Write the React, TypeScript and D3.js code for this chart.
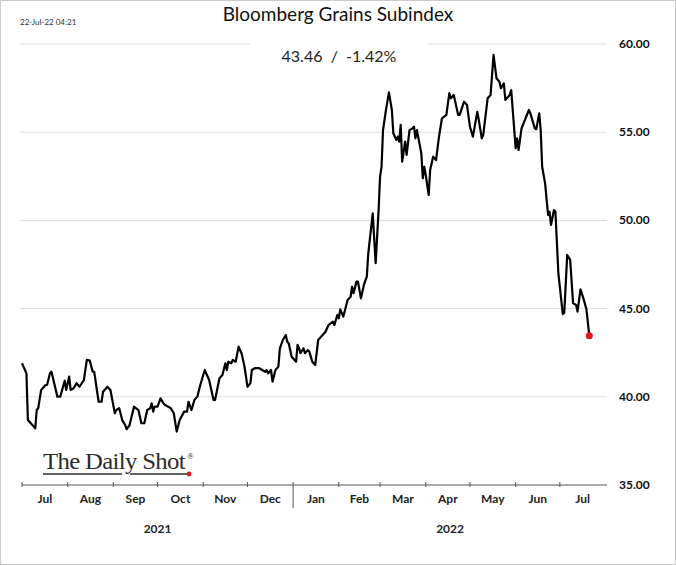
import React from 'react';
import * as d3 from 'd3';

const W = 676;
const H = 565;

// chart labels
const title = 'Bloomberg Grains Subindex';
const stamp = '22-Jul-22 04:21';
const lastLabel = '43.46  /  -1.42%';
const yTicks = [35, 40, 45, 50, 55, 60];
const years = ['2021', '2022'];

// Bloomberg Grains Subindex
const dates = [
  '2021-07-01', '2021-07-04', '2021-07-05', '2021-07-08', '2021-07-10', '2021-07-11', '2021-07-12', '2021-07-14',
  '2021-07-17', '2021-07-18', '2021-07-20', '2021-07-21', '2021-07-25', '2021-07-27', '2021-07-30', '2021-07-31',
  '2021-08-02', '2021-08-03', '2021-08-05', '2021-08-07', '2021-08-09', '2021-08-12', '2021-08-14', '2021-08-16',
  '2021-08-18', '2021-08-19', '2021-08-22', '2021-08-24', '2021-08-25', '2021-08-28', '2021-08-30', '2021-09-02',
  '2021-09-03', '2021-09-05', '2021-09-07', '2021-09-09', '2021-09-10', '2021-09-12', '2021-09-15', '2021-09-18',
  '2021-09-20', '2021-09-22', '2021-09-24', '2021-09-26', '2021-09-27', '2021-09-28', '2021-09-29', '2021-10-01',
  '2021-10-03', '2021-10-05', '2021-10-06', '2021-10-10', '2021-10-12', '2021-10-14', '2021-10-16', '2021-10-19',
  '2021-10-21', '2021-10-22', '2021-10-24', '2021-10-26', '2021-10-28', '2021-10-30', '2021-11-02', '2021-11-05',
  '2021-11-08', '2021-11-09', '2021-11-12', '2021-11-14', '2021-11-16', '2021-11-17', '2021-11-18', '2021-11-20',
  '2021-11-21', '2021-11-23', '2021-11-25', '2021-11-27', '2021-11-29', '2021-12-01', '2021-12-03', '2021-12-04',
  '2021-12-06', '2021-12-09', '2021-12-11', '2021-12-13', '2021-12-14', '2021-12-15', '2021-12-17', '2021-12-18',
  '2021-12-20', '2021-12-22', '2021-12-23', '2021-12-25', '2021-12-27', '2021-12-28', '2021-12-29', '2021-12-31',
  '2022-01-03', '2022-01-04', '2022-01-05', '2022-01-06', '2022-01-08', '2022-01-09', '2022-01-11', '2022-01-12',
  '2022-01-14', '2022-01-16', '2022-01-18', '2022-01-21', '2022-01-23', '2022-01-25', '2022-01-28', '2022-01-29',
  '2022-01-31', '2022-02-01', '2022-02-02', '2022-02-04', '2022-02-07', '2022-02-09', '2022-02-10', '2022-02-11',
  '2022-02-13', '2022-02-14', '2022-02-16', '2022-02-18', '2022-02-20', '2022-02-21', '2022-02-24', '2022-02-26',
  '2022-02-28', '2022-03-01', '2022-03-02', '2022-03-03', '2022-03-05', '2022-03-07', '2022-03-09', '2022-03-10',
  '2022-03-12', '2022-03-13', '2022-03-14', '2022-03-15', '2022-03-16', '2022-03-18', '2022-03-19', '2022-03-21',
  '2022-03-23', '2022-03-24', '2022-03-25', '2022-03-26', '2022-03-29', '2022-03-30', '2022-03-31', '2022-04-01',
  '2022-04-03', '2022-04-04', '2022-04-06', '2022-04-08', '2022-04-10', '2022-04-12', '2022-04-15', '2022-04-17',
  '2022-04-18', '2022-04-20', '2022-04-23', '2022-04-24', '2022-04-27', '2022-04-29', '2022-05-01', '2022-05-03',
  '2022-05-06', '2022-05-07', '2022-05-09', '2022-05-10', '2022-05-13', '2022-05-15', '2022-05-17', '2022-05-19',
  '2022-05-21', '2022-05-22', '2022-05-24', '2022-05-25', '2022-05-28', '2022-05-29', '2022-06-01', '2022-06-02',
  '2022-06-03', '2022-06-05', '2022-06-10', '2022-06-11', '2022-06-14', '2022-06-15', '2022-06-17', '2022-06-18',
  '2022-06-19', '2022-06-21', '2022-06-23', '2022-06-24', '2022-06-25', '2022-06-27', '2022-06-28', '2022-06-30',
  '2022-07-03', '2022-07-04', '2022-07-06', '2022-07-08', '2022-07-10', '2022-07-12', '2022-07-13', '2022-07-15',
  '2022-07-17', '2022-07-19', '2022-07-21',
];

const values = [
  41.9, 41.33, 38.68, 38.4, 38.21, 39.25, 39.35, 40.39,
  40.67, 40.67, 41.33, 41.42, 40.01, 40.01, 40.91, 40.39,
  41.14, 40.39, 40.48, 40.77, 40.57, 40.95, 42.09, 42.05,
  41.42, 41.42, 39.72, 39.72, 40.29, 40.57, 40.39, 39.07,
  39.25, 39.35, 38.68, 38.4, 38.16, 38.4, 39.44, 39.25,
  38.5, 38.5, 39.25, 39.35, 39.63, 39.16, 39.44, 39.44,
  39.91, 39.63, 39.54, 39.35, 39.07, 38.03, 38.68, 39.16,
  39.16, 39.72, 39.25, 39.82, 40.01, 40.67, 41.52, 40.95,
  39.82, 39.82, 41.05, 41.24, 41.9, 41.52, 41.99, 41.9,
  42.09, 41.99, 42.84, 42.47, 41.71, 40.57, 40.77, 41.52,
  41.62, 41.62, 41.52, 41.42, 41.52, 41.33, 41.52, 40.86,
  41.52, 41.71, 42.75, 43.22, 43.5, 43.12, 43.03, 42.27,
  41.99, 42.94, 42.75, 42.47, 42.75, 42.47, 42.65, 42.56,
  41.99, 41.8, 43.22, 43.5, 43.69, 44.07, 44.26, 44.07,
  44.64, 44.45, 44.96, 44.54, 45.49, 45.67, 46.24, 45.87,
  46.53, 46.53, 45.58, 46.34, 46.81, 48.13, 50.4, 47.57,
  50.59, 52.48, 53.04, 55.12, 56.26, 57.26, 56.26, 54.94,
  54.56, 54.75, 54.46, 55.41, 53.33, 54.46, 53.71, 55.12,
  55.22, 55.31, 54.65, 55.12, 53.8, 52.39, 53.04, 52.57,
  51.44, 52.86, 53.61, 53.42, 54.75, 55.79, 55.98, 57.21,
  56.92, 57.11, 55.98, 55.98, 56.73, 56.54, 55.31, 54.75,
  56.16, 55.69, 54.65, 54.84, 56.92, 57.11, 59.38, 58.06,
  57.86, 57.49, 57.77, 56.83, 57.11, 57.39, 54.09, 54.65,
  53.99, 55.22, 56.26, 56.07, 55.22, 55.17, 56.07, 55.12,
  53.04, 52.1, 50.31, 50.49, 49.74, 50.59, 50.49, 47.0,
  44.69, 44.77, 48.04, 47.76, 45.3, 45.21, 44.83, 46.09,
  45.58, 44.98, 43.46,
];

const parse = d3.timeParse('%Y-%m-%d');
const data = dates.map((d, i) => ({ date: parse(d) as Date, value: values[i] }));

const x = d3.scaleTime()
  .domain([new Date(2021, 6, 1), new Date(2022, 7, 2)])
  .range([22, 607]);
const y = d3.scaleLinear().domain([35, 60]).range([485, 44]);

const line = d3.line<{ date: Date; value: number }>()
  .x(d => x(d.date))
  .y(d => y(d.value));

const months = d3.timeMonth.range(new Date(2021, 6, 1), new Date(2022, 7, 1));
const yearStart = new Date(2022, 0, 1);

const LABEL_FONT = 'Lato, "Open Sans", sans-serif';
const LOGO_FONT = '"Liberation Serif", "DejaVu Serif", serif';

export default function App() {
  const last = data[data.length - 1];
  const axisY = y(35);
  return (
    <svg width={W} height={H} style={{ position: 'absolute', left: 0, top: 0, background: '#fff' }}>
      <rect x={0.5} y={0.5} width={W - 1} height={H - 1} fill="#fff" stroke="#c9c9c9" />

      {/* gridlines */}
      {yTicks.filter(t => t > 35).map(t => (
        <line key={t} x1={20} x2={607} y1={y(t)} y2={y(t)} stroke="#dedede" strokeWidth={1} />
      ))}

      {/* header */}
      <text x={20} y={25} fontFamily={LABEL_FONT} fontSize={8} fill="#333">{stamp}</text>
      <text x={338} y={21} textAnchor="middle" fontFamily={LABEL_FONT} fontSize={19} fill="#111">{title}</text>
      <rect x={250} y={36} width={178} height={28} fill="#fff" />
      <text x={339} y={62} textAnchor="middle" fontFamily={LABEL_FONT} fontSize={16} fill="#222" style={{ whiteSpace: 'pre' }}>{lastLabel}</text>

      {/* y labels on right */}
      {yTicks.map(t => (
        <text key={t} x={619} y={y(t) + 4} fontFamily={LABEL_FONT} fontWeight="bold" fontSize={12} fill="#111">
          {t.toFixed(2)}
        </text>
      ))}

      {/* x axis */}
      <line x1={22} x2={607} y1={axisY} y2={axisY} stroke="#555" strokeWidth={1} />
      {months.map(m => {
        const isYear = +m === +yearStart;
        const nx = x(d3.timeMonth.offset(m, 1));
        const mx = x(m);
        return (
          <g key={+m}>
            <line x1={mx} x2={mx} y1={axisY - 3} y2={isYear ? axisY + 23 : axisY + 2} stroke="#555" strokeWidth={1} />
            <text x={(mx + nx) / 2} y={503} textAnchor="middle" fontFamily={LABEL_FONT} fontWeight="bold" fontSize={12} fill="#222">
              {d3.timeFormat('%b')(m)}
            </text>
          </g>
        );
      })}
      {years.map((yr, i) => {
        const a = i === 0 ? x(new Date(2021, 6, 1)) : x(yearStart);
        const b = i === 0 ? x(yearStart) : x.range()[1];
        return (
          <text key={yr} x={(a + b) / 2} y={533} textAnchor="middle" fontFamily={LABEL_FONT} fontWeight="bold" fontSize={12} fill="#222">
            {yr}
          </text>
        );
      })}

      {/* series */}
      <path d={line(data) ?? ''} fill="none" stroke="#000" strokeWidth={2.2} strokeLinejoin="round" />
      <circle cx={x(last.date)} cy={y(last.value)} r={3.5} fill="#e8161b" />

      {/* watermark */}
      <text x={43} y={469} fontFamily={LOGO_FONT} fontSize={23} letterSpacing={-0.6} fill="#2b2b2b"
        textLength={142} lengthAdjust="spacingAndGlyphs">The Daily Shot</text>
      <text x={187} y={459} fontFamily={LOGO_FONT} fontSize={9} fill="#2b2b2b">®</text>
      <line x1={43} x2={122} y1={474} y2={474} stroke="#2b2b2b" strokeWidth={1.4} />
      <line x1={130} x2={188} y1={474} y2={474} stroke="#2b2b2b" strokeWidth={1.4} />
      <circle cx={189} cy={474} r={2.4} fill="#e8161b" />
    </svg>
  );
}
